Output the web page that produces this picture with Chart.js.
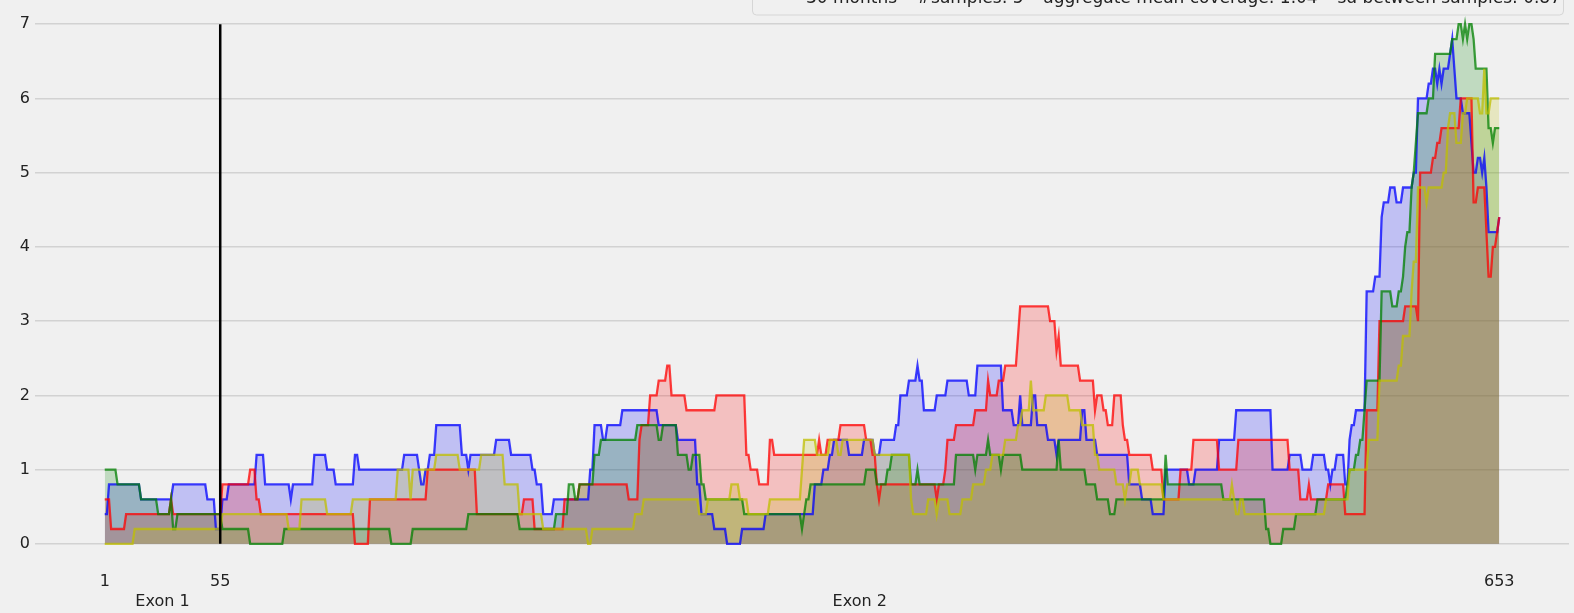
<!DOCTYPE html>
<html>
<head>
<meta charset="utf-8">
<script src="https://cdn.jsdelivr.net/npm/chart.js@4.4.0/dist/chart.umd.min.js"></script>
<style>
  html, body { margin: 0; padding: 0; background: #f0f0f0; }
  canvas { display: block; }
</style>
</head>
<body>
<canvas id="mycanvas" width="1574" height="613"></canvas>
<script>
// coverage per base as [first base, value] runs, value holds until the next run starts
var blueRuns = [[1,0.4],[3,0.8],[18,0.6],[33,0.8],[49,0.6],[53,0.2],[56,0.6],[59,0.8],[72,1.2],[76,0.8],[88,0.6],[89,0.8],[99,1.2],[105,1.0],[109,0.8],[118,1.2],[120,1.0],[141,1.2],[148,1.0],[149,0.8],[151,1.0],[153,1.2],[156,1.6],[168,1.2],[171,1.0],[172,1.2],[184,1.4],[191,1.2],[201,1.0],[203,0.8],[206,0.4],[211,0.6],[228,1.0],[230,1.6],[234,1.4],[236,1.6],[243,1.8],[260,1.6],[269,1.4],[278,0.8],[280,0.4],[286,0.2],[292,0],[299,0.2],[310,0.4],[333,0.8],[337,1.0],[340,1.2],[342,1.4],[349,1.2],[356,1.4],[361,1.2],[364,1.4],[371,1.6],[373,2.0],[377,2.2],[381,2.4],[382,2.2],[384,1.8],[390,2.0],[395,2.2],[405,2.0],[409,2.4],[421,1.8],[426,1.6],[429,2.0],[430,1.6],[435,2.0],[437,1.6],[442,1.4],[446,1.2],[447,1.4],[458,1.8],[460,1.4],[465,1.2],[480,0.8],[486,0.6],[491,0.4],[497,1.0],[508,0.8],[511,1.0],[522,1.4],[530,1.8],[547,1.0],[555,1.2],[561,1.0],[566,1.2],[572,1.0],[574,0.8],[575,1.0],[577,1.2],[581,0.8],[583,1.4],[584,1.6],[586,1.8],[591,3.4],[595,3.6],[598,4.4],[599,4.6],[602,4.8],[605,4.6],[608,4.8],[613,5.0],[615,6.0],[620,6.2],[622,6.4],[624,6.2],[625,6.4],[626,6.2],[627,6.4],[630,6.6],[631,6.8],[632,6.4],[633,6.0],[636,5.8],[640,5.4],[641,5.0],[643,5.2],[645,5.0],[646,5.2],[647,4.8],[648,4.2],[653,4.4]];
var redRuns = [[1,0.6],[4,0.2],[11,0.4],[32,0.6],[33,0.4],[56,0.8],[69,1.0],[72,0.6],[74,0.4],[118,0],[125,0.6],[152,1.0],[175,0.4],[197,0.6],[202,0.2],[216,0.6],[223,0.8],[246,0.6],[251,1.4],[252,1.6],[256,2.0],[260,2.2],[264,2.4],[266,2.0],[273,1.8],[287,2.0],[301,1.2],[303,1.0],[307,0.8],[312,1.4],[314,1.2],[335,1.4],[336,1.2],[339,1.4],[345,1.6],[357,1.4],[360,1.2],[362,0.8],[363,0.6],[364,0.8],[390,0.6],[391,0.8],[394,1.0],[395,1.4],[399,1.6],[408,1.8],[414,2.2],[415,2.0],[419,2.2],[422,2.4],[428,2.8],[429,3.2],[443,3.0],[446,2.6],[447,2.8],[448,2.4],[457,2.2],[464,1.8],[465,2.0],[468,1.8],[470,1.6],[473,2.0],[477,1.6],[478,1.4],[480,1.2],[491,1.0],[496,0.6],[504,1.0],[510,1.4],[522,1.0],[531,1.4],[555,1.0],[560,0.6],[564,0.8],[565,0.6],[573,0.8],[581,0.4],[591,1.8],[597,3.0],[609,3.2],[615,3.0],[616,5.0],[622,5.2],[624,5.4],[626,5.6],[635,6.0],[641,4.6],[643,4.8],[647,4.2],[648,3.6],[650,4.0],[652,4.2],[653,4.4]];
var greenRuns = [[1,1.0],[7,0.8],[18,0.6],[26,0.4],[32,0.6],[33,0.2],[35,0.4],[56,0.2],[69,0],[85,0.2],[135,0],[145,0.2],[171,0.4],[195,0.2],[212,0.4],[218,0.8],[221,0.6],[223,0.8],[230,1.2],[233,1.4],[250,1.6],[260,1.4],[262,1.6],[269,1.2],[274,1.0],[276,1.2],[280,0.8],[282,0.6],[300,0.4],[327,0.2],[328,0.4],[329,0.6],[331,0.8],[357,1.0],[362,0.8],[367,1.0],[369,1.2],[378,0.8],[381,1.0],[382,0.8],[399,1.2],[408,1.0],[409,1.2],[414,1.4],[415,1.2],[420,1.0],[421,1.2],[430,1.0],[447,1.4],[448,1.0],[460,0.8],[465,0.6],[471,0.4],[474,0.6],[497,1.2],[498,0.8],[524,0.6],[544,0.2],[546,0],[552,0.2],[558,0.4],[568,0.6],[582,0.8],[583,1.0],[586,1.2],[588,1.4],[590,1.8],[591,2.2],[598,3.4],[603,3.2],[606,3.4],[608,3.6],[609,4.0],[610,4.2],[612,4.8],[613,5.0],[614,5.4],[615,5.8],[620,6.0],[623,6.6],[631,6.8],[634,7.0],[636,6.8],[637,7.0],[638,6.8],[639,7.0],[641,6.8],[642,6.4],[648,5.6],[650,5.4],[651,5.6]];
var yellowRuns = [[1,0],[15,0.2],[56,0.4],[87,0.2],[93,0.6],[105,0.4],[117,0.6],[138,1.0],[144,0.6],[145,1.0],[156,1.2],[167,1.0],[177,1.2],[188,0.8],[195,0.4],[206,0.2],[227,0],[229,0.2],[249,0.4],[253,0.6],[279,0.4],[283,0.6],[294,0.8],[298,0.6],[302,0.4],[312,0.6],[327,1.0],[328,1.4],[334,1.2],[340,1.4],[344,1.2],[346,1.4],[361,1.2],[378,0.6],[379,0.4],[386,0.6],[390,0.4],[391,0.6],[396,0.4],[402,0.6],[407,0.8],[413,1.0],[416,1.2],[422,1.4],[428,1.6],[430,1.8],[434,2.2],[435,1.8],[441,2.0],[452,1.8],[458,1.6],[464,1.2],[466,1.0],[474,0.8],[478,0.6],[479,0.8],[481,1.0],[485,0.8],[496,0.6],[528,0.8],[529,0.6],[530,0.4],[532,0.6],[534,0.4],[572,0.6],[583,1.0],[592,1.4],[597,2.2],[606,2.4],[608,2.8],[612,3.4],[613,3.8],[615,4.8],[619,4.6],[620,4.8],[627,5.0],[629,5.6],[630,5.8],[633,5.4],[636,5.8],[638,6.0],[644,5.8],[646,6.4],[647,5.8],[649,6.0]];

var lastBase = 653;
var exonBoundary = 55;
var xTickValues = [1, 55, 653];
var exonCentres = [28, 354];
var exonNames = ['Exon 1', 'Exon 2'];
var yTicks = [0, 1, 2, 3, 4, 5, 6, 7];
var legendParts = ['30 months', '#samples: 5', 'aggregate mean coverage: 1.04', 'sd between samples: 0.87'];

function expand(runs) {
  var pts = [];
  for (var i = 0; i < runs.length; i++) {
    var end = i + 1 < runs.length ? runs[i + 1][0] - 1 : lastBase;
    for (var x = runs[i][0]; x <= end; x++) pts.push({x: x, y: runs[i][1]});
  }
  return pts;
}

function series(runs, rgb, ord) {
  return {
    data: expand(runs),
    borderColor: 'rgba(' + rgb + ',0.75)',
    backgroundColor: 'rgba(' + rgb + ',0.2)',
    borderWidth: 2.3,
    pointRadius: 0,
    fill: 'origin',
    tension: 0,
    order: ord
  };
}

var bgPlugin = {
  id: 'bg',
  beforeDraw: function(chart) {
    var c = chart.ctx;
    c.save();
    c.fillStyle = '#f0f0f0';
    c.fillRect(0, 0, chart.width, chart.height);
    c.restore();
  }
};

// the legend box sits mostly above the top edge of the picture
var legendBox = {
  id: 'legendBox',
  afterDraw: function(chart) {
    var c = chart.ctx;
    c.save();
    c.beginPath();
    c.roundRect(752.5, -20.5, 811, 35.5, 4);
    c.fillStyle = 'rgba(240,240,240,0.85)';
    c.fill();
    c.strokeStyle = '#d6d6d6';
    c.lineWidth = 1;
    c.stroke();
    c.fillStyle = '#222';
    c.font = '17px "DejaVu Sans"';
    c.textBaseline = 'alphabetic';
    var left = 806, right = 1561, total = 0;
    legendParts.forEach(function(p) { total += c.measureText(p).width; });
    var gap = (right - left - total) / (legendParts.length - 1);
    var x = left;
    legendParts.forEach(function(p) {
      c.fillText(p, x, 3);
      x += c.measureText(p).width + gap;
    });
    c.restore();
  }
};

var ctx = document.getElementById('mycanvas');

var chart = new Chart(ctx, {
  type: 'line',
  data: {
    datasets: [
      series(blueRuns, '0,0,255', 4),
      series(redRuns, '255,0,0', 3),
      series(greenRuns, '0,128,0', 2),
      series(yellowRuns, '191,191,0', 1),
      {
        data: [{x: exonBoundary, y: yTicks[0]}, {x: exonBoundary, y: yTicks[yTicks.length - 1]}],
        borderColor: '#000',
        borderWidth: 2.5,
        pointRadius: 0,
        fill: false,
        order: 0
      }
    ]
  },
  options: {
    responsive: false,
    animation: false,
    devicePixelRatio: 1,
    layout: { padding: { top: 1, right: 5, left: 0, bottom: 0 } },
    plugins: {
      legend: { display: false },
      tooltip: { enabled: false },
      filler: { drawTime: 'beforeDatasetsDraw' }
    },
    scales: {
      x: {
        type: 'linear',
        min: -31.6,
        max: 685.6,
        grid: { display: false, drawTicks: false },
        border: { display: false },
        afterFit: function(s) { s.height = 43; },
        afterBuildTicks: function(s) {
          var vals = xTickValues.concat(exonCentres).sort(function(a, b) { return a - b; });
          s.ticks = vals.map(function(v) { return {value: v}; });
        },
        ticks: {
          autoSkip: false,
          maxRotation: 0,
          padding: 1,
          color: '#222',
          font: { family: 'DejaVu Sans', size: 16, lineHeight: 1.3 },
          callback: function(v) {
            var k = exonCentres.indexOf(v);
            if (k >= 0) return ['', exonNames[k]];
            return String(v);
          }
        }
      },
      y: {
        min: -0.352,
        max: 7.129,
        grid: { color: '#d2d2d2', lineWidth: 1.5, drawTicks: false },
        border: { display: false },
        afterFit: function(s) { s.width = 35; },
        afterBuildTicks: function(s) {
          s.ticks = yTicks.map(function(v) { return {value: v}; });
        },
        ticks: {
          padding: 5,
          color: '#222',
          font: { family: 'DejaVu Sans', size: 16 }
        }
      }
    }
  },
  plugins: [bgPlugin, legendBox]
});
</script>
</body>
</html>
